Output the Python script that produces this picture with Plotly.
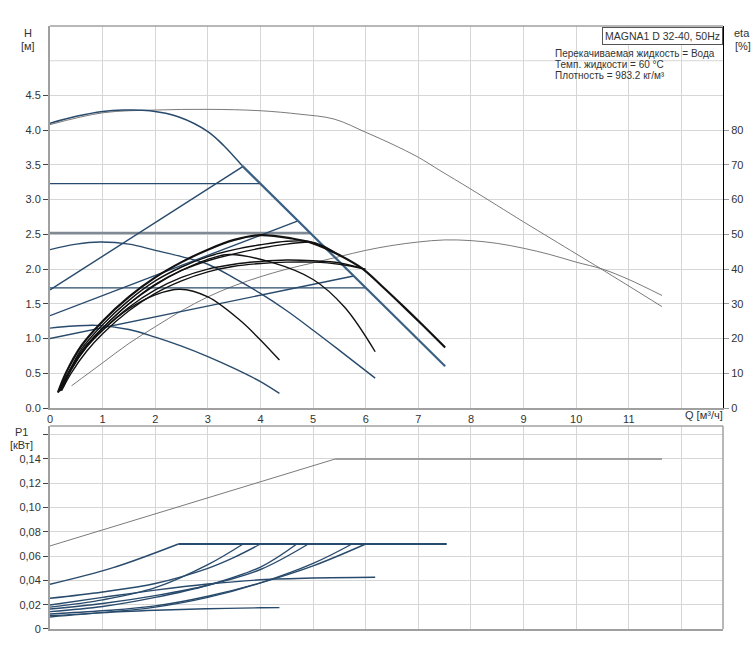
import plotly.graph_objects as go

# ---------------- DATA ----------------
# Q axis ticks
q_ticks = [0, 1, 2, 3, 4, 5, 6, 7, 8, 9, 10, 11, 12]
q_ticktext = ["0", "1", "2", "3", "4", "5", "6", "7", "8", "9", "10", "11", ""]
h_ticks = [0, 0.5, 1.0, 1.5, 2.0, 2.5, 3.0, 3.5, 4.0, 4.5]
h_ticktext = ["0.0", "0.5", "1.0", "1.5", "2.0", "2.5", "3.0", "3.5", "4.0", "4.5"]
h_extra_grid = [5.0]
eta_ticks = [0, 10, 20, 30, 40, 50, 60, 70, 80]
p_ticks = [0, 0.02, 0.04, 0.06, 0.08, 0.10, 0.12, 0.14, 0.16]
p_ticktext = ["0", "0,02", "0,04", "0,06", "0,08", "0,10", "0,12", "0,14", ""]

# H curves (m)
max_q = [0, 0.5, 1.0, 1.4, 1.9, 2.45, 3.0, 3.3, 3.65]
max_h = [4.10, 4.20, 4.27, 4.29, 4.28, 4.19, 3.98, 3.78, 3.49]
limit_q = [3.65, 7.51]
limit_h = [3.49, 0.60]

thin_top_q = [0, 1, 2, 3, 4, 4.75, 5.4, 6.0, 6.5, 7.0, 7.41, 8.0, 9.0, 10.0, 10.5, 11.63]
thin_top_h = [4.08, 4.25, 4.29, 4.30, 4.28, 4.23, 4.16, 3.97, 3.80, 3.61, 3.42, 3.15, 2.68, 2.22, 1.99, 1.46]

thin_eta_q = [0.41, 1, 1.5, 2, 2.5, 3, 3.5, 4, 4.5, 5, 5.5, 6, 6.5, 7, 7.5, 8, 8.5, 9, 9.5, 10, 10.5, 11, 11.63]
thin_eta_h = [0.32, 0.65, 0.93, 1.17, 1.40, 1.60, 1.76, 1.89, 2.00, 2.09, 2.18, 2.27, 2.34, 2.39, 2.42, 2.41, 2.37, 2.30, 2.21, 2.10, 2.00, 1.85, 1.62]

pp1_q, pp1_h = [0, 3.67], [1.70, 3.48]
pp2_q, pp2_h = [0, 4.70], [1.33, 2.69]
pp3_q, pp3_h = [0, 5.77], [1.00, 1.90]
cp1_q, cp1_h = [0, 4.00], [3.23, 3.23]
cp2_q, cp2_h = [0, 4.95], [2.52, 2.52]
cp3_q, cp3_h = [0, 6.00], [1.73, 1.73]

f1_q = [0, 0.5, 0.95, 1.5, 2, 2.5, 3, 3.5, 4, 4.5, 5, 5.5, 6.18]
f1_h = [2.28, 2.36, 2.39, 2.36, 2.27, 2.18, 2.07, 1.87, 1.65, 1.40, 1.12, 0.83, 0.43]
f2_q = [0, 0.45, 0.9, 1.5, 2, 2.5, 3, 3.5, 4, 4.36]
f2_h = [1.15, 1.18, 1.19, 1.13, 1.02, 0.89, 0.74, 0.57, 0.38, 0.21]

# efficiency curves (plotted on H scale, eta = 20*H)
ea_q = [0.15, 0.3, 0.6, 1, 1.5, 2, 2.5, 3, 3.5, 4.0, 4.6, 5.0, 5.45, 5.93, 6.3, 6.72, 7.1, 7.51]
ea_h = [0.22, 0.50, 0.90, 1.25, 1.60, 1.88, 2.10, 2.28, 2.42, 2.49, 2.44, 2.37, 2.22, 2.01, 1.76, 1.46, 1.18, 0.87]
eb_q = [0.2, 0.35, 0.6, 1, 1.5, 2, 2.5, 3, 3.5, 4, 4.5, 4.9, 5.2, 5.45]
eb_h = [0.25, 0.50, 0.85, 1.20, 1.55, 1.83, 2.03, 2.18, 2.28, 2.35, 2.40, 2.40, 2.33, 2.22]
ec_q = [0.25, 0.4, 0.7, 1, 1.5, 2, 2.5, 3, 3.5, 4, 4.5, 4.9]
ec_h = [0.30, 0.55, 0.90, 1.15, 1.50, 1.78, 1.98, 2.12, 2.22, 2.30, 2.36, 2.39]
ed_q = [0.18, 0.35, 0.6, 1, 1.5, 2, 2.5, 3, 3.4, 4.2, 5.0, 5.6, 6.18]
ed_h = [0.24, 0.50, 0.82, 1.15, 1.50, 1.77, 1.98, 2.14, 2.21, 2.10, 1.85, 1.45, 0.81]
ee_q = [0.2, 0.4, 0.7, 1, 1.5, 2, 2.5, 3, 3.5, 4, 4.5, 5, 5.5, 5.93]
ee_h = [0.25, 0.55, 0.88, 1.12, 1.45, 1.70, 1.88, 2.00, 2.07, 2.11, 2.13, 2.12, 2.09, 2.01]
ef_q = [0.22, 0.4, 0.7, 1, 1.5, 2, 2.5, 3, 3.5, 4, 4.5, 5, 5.5, 6.0]
ef_h = [0.25, 0.50, 0.82, 1.07, 1.40, 1.65, 1.83, 1.96, 2.04, 2.08, 2.10, 2.10, 2.07, 2.00]
eg_q = [0.16, 0.3, 0.6, 1, 1.5, 2, 2.47, 3, 3.6, 4, 4.36]
eg_h = [0.23, 0.45, 0.80, 1.12, 1.43, 1.63, 1.71, 1.60, 1.27, 0.98, 0.69]

# P1 curves (kW)
p_thin_q = [0, 5.42, 11.63]
p_thin_v = [0.0684, 0.14, 0.14]
p_flat_q = [2.44, 7.54]
p_flat_v = [0.07, 0.07]
pm_q, pm_v = [0, 1.2, 2.44], [0.0368, 0.0505, 0.070]
pc1_q, pc1_v = [0, 1, 2, 3, 3.5, 4.0], [0.0253, 0.0305, 0.0375, 0.0500, 0.0590, 0.070]
pc2_q, pc2_v = [0, 1, 2, 3, 3.67], [0.0180, 0.0240, 0.0340, 0.0530, 0.070]
pc3_q, pc3_v = [0, 1, 2, 3, 4, 4.91], [0.0165, 0.0210, 0.0275, 0.0360, 0.0490, 0.070]
pc4_q, pc4_v = [0, 1, 2, 3, 4, 4.69], [0.0143, 0.0185, 0.0260, 0.0360, 0.0510, 0.070]
pc5_q, pc5_v = [0, 1, 2, 3, 4, 5, 6.0], [0.0124, 0.0150, 0.0190, 0.0270, 0.0380, 0.0520, 0.070]
pc6_q, pc6_v = [0, 1, 2, 3, 4, 5, 5.74], [0.0110, 0.0135, 0.0180, 0.0260, 0.0380, 0.0540, 0.070]
pf1_q, pf1_v = [0, 1, 2, 3, 4, 5, 6.18], [0.0198, 0.0260, 0.0320, 0.0370, 0.0405, 0.0420, 0.0426]
pf2_q, pf2_v = [0, 1, 2, 3, 4, 4.36], [0.0099, 0.0135, 0.0155, 0.0167, 0.0175, 0.0176]

# ---------------- FIGURE ----------------
BLUE = "#284a6c"
LIMIT = "#3a6084"
BLACK = "#111111"
THIN = "#6b6b6b"

fig = go.Figure()


def add(q, v, color, width, xa="x", ya="y", shape="spline"):
    fig.add_trace(go.Scatter(x=q, y=v, mode="lines", xaxis=xa, yaxis=ya,
                             line=dict(color=color, width=width, shape=shape),
                             hoverinfo="skip", showlegend=False))


# top plot
add(thin_top_q, thin_top_h, THIN, 0.9)
add(thin_eta_q, thin_eta_h, THIN, 0.9)
add(cp2_q, cp2_h, "#808a94", 2.4, shape="linear")
for q, h in [(pp1_q, pp1_h), (pp2_q, pp2_h), (pp3_q, pp3_h), (cp1_q, cp1_h), (cp3_q, cp3_h)]:
    add(q, h, BLUE, 1.4, shape="linear")
add(f1_q, f1_h, BLUE, 1.4)
add(f2_q, f2_h, BLUE, 1.4)
add(max_q, max_h, BLUE, 1.5)
add(limit_q, limit_h, LIMIT, 2.2, shape="linear")
for q, h in [(eb_q, eb_h), (ec_q, ec_h), (ed_q, ed_h), (ee_q, ee_h), (ef_q, ef_h), (eg_q, eg_h)]:
    add(q, h, BLACK, 1.4)
add(ea_q, ea_h, BLACK, 2.2)

# bottom plot
add(p_thin_q, p_thin_v, THIN, 0.9, "x2", "y3", "linear")
add(p_thin_q[1:], p_thin_v[1:], "#9a9a9a", 1.6, "x2", "y3", "linear")
for q, v in [(pm_q, pm_v), (pc1_q, pc1_v), (pc2_q, pc2_v), (pc3_q, pc3_v), (pc4_q, pc4_v),
             (pc5_q, pc5_v), (pc6_q, pc6_v), (pf1_q, pf1_v), (pf2_q, pf2_v)]:
    add(q, v, BLUE, 1.4, "x2", "y3")
add(p_flat_q, p_flat_v, BLUE, 2.2, "x2", "y3", "linear")

# eta axis dummy trace so the right axis is drawn
fig.add_trace(go.Scatter(x=[0], y=[0], xaxis="x", yaxis="y2", mode="markers",
                         marker=dict(opacity=0), hoverinfo="skip", showlegend=False))

FONT = dict(family="Liberation Sans, Arial, sans-serif", size=11, color="#333333")
GRID = "#d6d6d6"
XR = [0, 12.79]

fig.update_layout(
    width=756, height=662,
    margin=dict(l=50, r=33, t=26, b=33),
    paper_bgcolor="white", plot_bgcolor="white",
    font=FONT,
    xaxis=dict(domain=[0, 1], range=XR, anchor="y", tickvals=q_ticks, ticktext=q_ticktext,
               showgrid=True, gridcolor=GRID, gridwidth=1, zeroline=False,
               showline=True, linecolor="#a0a0a0", linewidth=2, ticks="", tickfont=FONT),
    yaxis=dict(domain=[0.3665, 1], range=[0, 5.5], anchor="x", tickvals=h_ticks, ticktext=h_ticktext,
               showgrid=True, gridcolor=GRID, zeroline=False,
               showline=True, linecolor="#a0a0a0", linewidth=2,
               ticks="outside", ticklen=5, tickcolor="#444", tickfont=FONT),
    yaxis2=dict(overlaying="y", side="right", anchor="x", range=[0, 110], tickvals=eta_ticks,
                showgrid=False, zeroline=False, showline=True, linecolor="#000", linewidth=1,
                ticks="outside", ticklen=5, tickcolor="#999", tickfont=FONT),
    xaxis2=dict(domain=[0, 1], range=XR, anchor="y3", tickvals=q_ticks, showticklabels=False,
                showgrid=True, gridcolor=GRID, zeroline=False,
                showline=True, linecolor="#a0a0a0", linewidth=2, ticks=""),
    yaxis3=dict(domain=[0, 0.3367], range=[0, 0.1672], anchor="x2", tickvals=p_ticks, ticktext=p_ticktext,
                showgrid=True, gridcolor=GRID, zeroline=False,
                showline=True, linecolor="#a0a0a0", linewidth=2,
                ticks="outside", ticklen=5, tickcolor="#444", tickfont=FONT),
)

# extra gridline (no tick label) and frame lines
for hv in h_extra_grid:
    fig.add_shape(type="line", xref="x domain", yref="y", x0=0, x1=1, y0=hv, y1=hv,
                  line=dict(color=GRID, width=1), layer="below")
fig.add_shape(type="line", xref="x domain", yref="y domain", x0=0, x1=1, y0=1, y1=1,
              line=dict(color="#a0a0a0", width=1.5))
fig.add_shape(type="line", xref="x2 domain", yref="y3 domain", x0=0, x1=1, y0=1, y1=1,
              line=dict(color="#a0a0a0", width=1.5))
fig.add_shape(type="line", xref="x2 domain", yref="y3 domain", x0=1, x1=1, y0=0, y1=1,
              line=dict(color="#a0a0a0", width=1.5))


def px_x(px):
    return (px - 50) / 673.0


def px_y(py):
    return (629 - py) / 603.0


def note(text, x, y, xanchor="center", yanchor="middle", size=11, **kw):
    fig.add_annotation(text=text, xref="paper", yref="paper", x=px_x(x), y=px_y(y),
                       xanchor=xanchor, yanchor=yanchor, showarrow=False,
                       font=dict(family=FONT["family"], size=size, color="#333333"), **kw)


note("H", 28, 33)
note("[м]", 28, 46)
note("eta", 742, 33)
note("[%]", 743, 46)
note("P1", 21, 432)
note("[кВт]", 21, 445)
note("Q [м³/ч]", 683, 415, xanchor="left")
note("MAGNA1 D 32-40, 50Hz", 722.5, 26.5, xanchor="right", yanchor="top", size=10.5,
     bordercolor="#555555", borderwidth=1, borderpad=2, bgcolor="white")
note("Перекачиваемая жидкость = Вода", 553, 53, xanchor="left", size=10)
note("Темп. жидкости = 60 °C", 553, 64.5, xanchor="left", size=10)
note("Плотность = 983.2 кг/м³", 553, 76, xanchor="left", size=10)

fig.write_html("out.html")
